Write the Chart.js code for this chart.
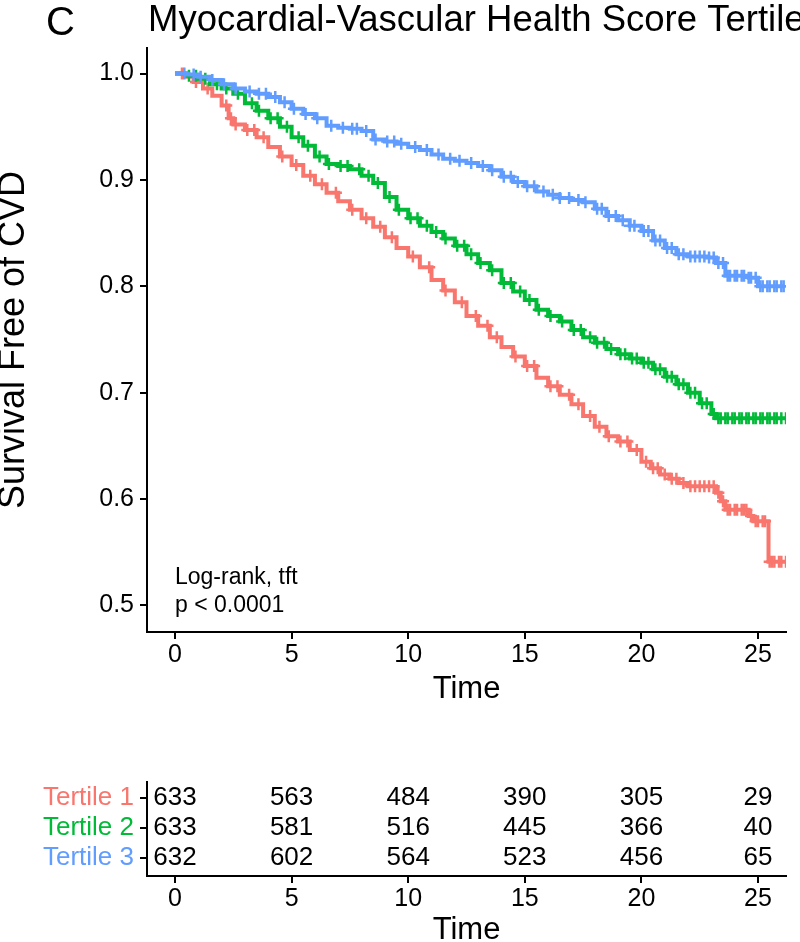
<!DOCTYPE html>
<html>
<head>
<meta charset="utf-8">
<script src="https://cdn.jsdelivr.net/npm/chart.js@4.4.1/dist/chart.umd.min.js"></script>
<style>
    body { margin: 0; background: #fff; }
    #survChart { position: absolute; left: 0; top: 0; }
    #riskChart { position: absolute; left: 0; top: 760px; }
</style>
</head>
<body>
<canvas id="survChart" width="800" height="720"></canvas>
<canvas id="riskChart" width="800" height="182"></canvas>
<script>
// Chart data
const groups = ['Tertile 1', 'Tertile 2', 'Tertile 3'];
const groupColors = ['#F8766D', '#00BA38', '#619CFF'];
const timeTicks = [0, 5, 10, 15, 20, 25];
const survTicks = [0.5, 0.6, 0.7, 0.8, 0.9, 1.0];

// Kaplan-Meier steps (time, survival)
const t1Time = [0, 0.4, 0.8, 1.2, 1.6, 2.0, 2.3, 2.5, 3.0, 3.5, 4.0, 4.5, 5.0, 5.5, 6.0, 6.5, 7.0, 7.5, 8.0, 8.5, 9.0, 9.5, 10.0,
    10.5, 11.0, 11.5, 12.0, 12.5, 13.0, 13.5, 14.0, 14.5, 15.0, 15.5, 16.0, 16.5, 17.0, 17.5, 18.0, 18.5, 19.0, 19.5, 20.0,
    20.4, 20.8, 21.2, 21.6, 22.0, 22.4, 22.8, 23.2, 23.4, 23.6, 23.9, 24.2, 24.6, 24.8, 25.1, 25.45, 25.8, 26.2];
const t1Surv = [1.000, 0.997, 0.992, 0.986, 0.979, 0.970, 0.958, 0.952, 0.947, 0.940, 0.931, 0.922, 0.914, 0.904, 0.896, 0.888,
    0.880, 0.872, 0.864, 0.856, 0.846, 0.836, 0.828, 0.818, 0.806, 0.796, 0.785, 0.772, 0.763, 0.752, 0.743, 0.734, 0.725,
    0.714, 0.706, 0.698, 0.689, 0.678, 0.668, 0.659, 0.654, 0.646, 0.635, 0.629, 0.623, 0.619, 0.615, 0.612, 0.612, 0.612,
    0.606, 0.598, 0.590, 0.590, 0.590, 0.584, 0.579, 0.579, 0.541, 0.541, 0.541];

const t2Time = [0, 0.5, 1.0, 1.5, 2.0, 2.5, 3.0, 3.5, 4.0, 4.5, 5.0, 5.5, 6.0, 6.5, 7.0, 7.5, 8.0, 8.5, 9.0, 9.5, 10.0, 10.5,
    11.0, 11.5, 12.0, 12.5, 13.0, 13.5, 14.0, 14.5, 15.0, 15.5, 16.0, 16.5, 17.0, 17.5, 18.0, 18.5, 19.0, 19.5, 20.0, 20.5,
    21.0, 21.5, 22.0, 22.5, 23.0, 23.2, 26.2];
const t2Surv = [1.000, 0.998, 0.995, 0.990, 0.986, 0.981, 0.972, 0.965, 0.958, 0.950, 0.940, 0.932, 0.922, 0.915, 0.913, 0.910,
    0.904, 0.897, 0.884, 0.872, 0.864, 0.857, 0.851, 0.845, 0.838, 0.830, 0.822, 0.815, 0.803, 0.795, 0.787, 0.778, 0.772,
    0.767, 0.759, 0.752, 0.747, 0.741, 0.736, 0.732, 0.728, 0.722, 0.715, 0.708, 0.700, 0.690, 0.680, 0.676, 0.676];

const t3Time = [0, 0.5, 1.0, 1.5, 2.0, 2.5, 3.0, 3.5, 4.0, 4.5, 5.0, 5.5, 6.0, 6.5, 7.0, 7.5, 8.0, 8.5, 9.0, 9.5, 10.0, 10.5,
    11.0, 11.5, 12.0, 12.5, 13.0, 13.5, 14.0, 14.5, 15.0, 15.5, 16.0, 16.5, 17.0, 17.5, 18.0, 18.5, 19.0, 19.5, 20.0, 20.5,
    21.0, 21.5, 22.0, 22.8, 23.2, 23.6, 24.6, 25.0, 26.1];
const t3Surv = [1.000, 0.999, 0.997, 0.994, 0.990, 0.986, 0.983, 0.981, 0.978, 0.973, 0.967, 0.962, 0.958, 0.951, 0.949, 0.948,
    0.946, 0.938, 0.936, 0.934, 0.931, 0.928, 0.924, 0.920, 0.918, 0.916, 0.913, 0.909, 0.903, 0.898, 0.894, 0.889, 0.886,
    0.883, 0.881, 0.879, 0.873, 0.866, 0.862, 0.857, 0.852, 0.843, 0.836, 0.830, 0.828, 0.827, 0.822, 0.810, 0.808, 0.800,
    0.800];

// Censoring times (marked with +)
const c1Time = [0.3, 0.9, 1.4, 2.2, 2.4, 2.6, 3.1, 3.4, 3.8, 4.6, 5.2, 5.8, 6.3, 6.9, 7.6, 8.2, 8.8, 9.3, 10.2, 10.9, 11.6,
    12.3, 12.9, 13.4, 13.8, 14.6, 15.1, 15.4, 16.1, 16.4, 16.9, 17.3, 17.8, 18.2, 18.6, 19.1, 19.4, 19.8, 20.2, 20.5, 20.7,
    21.0, 21.3, 21.5, 21.8, 22.1, 22.3, 22.5, 22.7, 22.9, 23.1, 23.3, 23.5, 23.7, 23.8, 24.0, 24.1, 24.3, 24.4, 24.5, 24.7,
    24.9, 25.0, 25.2, 25.3, 25.5, 25.6, 25.7, 25.9, 26.0, 26.2];
const c2Time = [0.6, 0.9, 1.3, 1.8, 2.2, 2.7, 3.3, 3.6, 4.1, 4.4, 4.8, 5.3, 5.7, 6.2, 6.6, 7.1, 7.4, 7.9, 8.3, 8.7, 9.2, 9.6,
    10.1, 10.4, 10.8, 11.2, 11.6, 12.1, 12.4, 12.7, 13.1, 13.6, 14.1, 14.4, 14.8, 15.2, 15.6, 16.1, 16.6, 17.1, 17.4, 17.8,
    18.1, 18.4, 18.7, 19.1, 19.3, 19.6, 19.8, 20.1, 20.3, 20.6, 20.8, 21.1, 21.3, 21.6, 21.8, 22.1, 22.3, 22.6, 22.8, 23.1,
    23.3, 23.4, 23.6, 23.7, 23.9, 24.0, 24.2, 24.3, 24.5, 24.6, 24.8, 24.9, 25.1, 25.2, 25.4, 25.5, 25.7, 25.8, 26.0, 26.2];
const c3Time = [0.4, 0.8, 1.1, 1.6, 2.1, 2.6, 3.2, 3.6, 3.9, 4.3, 4.7, 5.1, 5.6, 6.1, 6.7, 7.2, 7.6, 7.8, 8.2, 8.6, 9.1, 9.4,
    9.7, 10.3, 10.8, 11.3, 11.8, 12.2, 12.7, 13.2, 13.6, 14.1, 14.4, 14.7, 15.1, 15.4, 15.8, 16.2, 16.5, 16.9, 17.3, 17.6,
    18.1, 18.3, 18.6, 18.9, 19.2, 19.5, 19.7, 20.1, 20.3, 20.6, 20.8, 21.1, 21.3, 21.6, 21.8, 22.1, 22.3, 22.5, 22.7, 22.9,
    23.1, 23.3, 23.5, 23.7, 23.8, 24.0, 24.1, 24.3, 24.4, 24.6, 24.7, 24.9, 25.1, 25.2, 25.4, 25.5, 25.7, 25.8, 26.0, 26.1];

// Number at risk table
const riskTimes = [0, 5, 10, 15, 20, 25];
const risk1 = [633, 563, 484, 390, 305, 29];
const risk2 = [633, 581, 516, 445, 366, 40];
const risk3 = [632, 602, 564, 523, 456, 65];

const FONT = '"Liberation Sans", Arial, Helvetica, sans-serif';
Chart.defaults.font.family = FONT;
Chart.defaults.color = '#000';

const toPoints = (times, surv) => times.map((t, i) => ({ x: t, y: surv[i] }));

// survival value of the step curve at time t (for placing censor marks on it)
const survAt = (times, surv, t) => {
    let s = surv[0];
    times.forEach((tt, i) => { if (tt <= t) s = surv[i]; });
    return s;
};

const xScale = (height) => ({
    type: 'linear',
    min: -1.2,
    max: 26.2,
    afterBuildTicks: scale => { scale.ticks = timeTicks.map(v => ({ value: v })); },
    afterFit: scale => { scale.height = height; },
    grid: { drawOnChartArea: false, drawTicks: true, tickLength: 7, color: '#000', lineWidth: 2 },
    border: { display: true, color: '#000', width: 2 },
    ticks: { font: { size: 25 }, color: '#000', padding: 1, maxRotation: 0 }
});

const curve = (i, times, surv, order) => ({
    label: groups[i],
    data: toPoints(times, surv),
    borderColor: groupColors[i],
    backgroundColor: groupColors[i],
    borderWidth: 4,
    stepped: true,
    pointRadius: 0,
    order: order
});

const censor = (i, cTimes, times, surv, order) => ({
    label: groups[i] + ' censored',
    data: cTimes.map(t => ({ x: t, y: survAt(times, surv, t) })),
    showLine: false,
    pointStyle: 'cross',
    pointRadius: 6,
    pointBorderWidth: 2.5,
    pointBorderColor: groupColors[i],
    order: order
});

// Titles and annotation text
const survText = {
    id: 'survText',
    afterDraw(chart) {
        const ctx = chart.ctx;
        const { left, right, top, bottom } = chart.chartArea;
        const x0 = chart.scales.x.getPixelForValue(0);
        ctx.save();
        ctx.fillStyle = '#000';
        ctx.textBaseline = 'alphabetic';
        ctx.textAlign = 'left';
        ctx.font = '40px ' + FONT;
        ctx.fillText('C', 46, 35);
        ctx.font = '36.5px ' + FONT;
        ctx.fillText('Myocardial-Vascular Health Score Tertile', 148, 31);
        ctx.font = '23px ' + FONT;
        ctx.fillText('Log-rank, tft', x0, 584);
        ctx.fillText('p < 0.0001', x0, 612);
        ctx.textAlign = 'center';
        ctx.font = '31px ' + FONT;
        ctx.fillText('Time', (left + right) / 2, 698);
        ctx.translate(24, (top + bottom) / 2);
        ctx.rotate(-Math.PI / 2);
        ctx.font = '36px ' + FONT;
        ctx.fillText('Survival Free of CVD', 0, 0);
        ctx.restore();
    }
};

new Chart(document.getElementById('survChart'), {
    type: 'line',
    data: {
        datasets: [
            curve(0, t1Time, t1Surv, 5),
            censor(0, c1Time, t1Time, t1Surv, 4),
            curve(1, t2Time, t2Surv, 3),
            censor(1, c2Time, t2Time, t2Surv, 2),
            curve(2, t3Time, t3Surv, 1),
            censor(2, c3Time, t3Time, t3Surv, 0)
        ]
    },
    options: {
        responsive: false,
        animation: false,
        layout: { padding: { left: 0, right: 14, top: 48, bottom: 0 } },
        scales: {
            x: xScale(88),
            y: {
                type: 'linear',
                min: 0.475,
                max: 1.024,
                afterBuildTicks: scale => { scale.ticks = survTicks.map(v => ({ value: v })); },
                afterFit: scale => { scale.width = 147; },
                grid: { drawOnChartArea: false, drawTicks: true, tickLength: 7, color: '#000', lineWidth: 2 },
                border: { display: true, color: '#000', width: 2 },
                ticks: { font: { size: 25 }, color: '#000', padding: 6, callback: v => v.toFixed(1) }
            }
        },
        plugins: { legend: { display: false }, tooltip: { enabled: false } }
    },
    plugins: [survText]
});

// Risk table
const riskRows = [risk1, risk2, risk3];
const riskText = {
    id: 'riskText',
    afterDraw(chart) {
        const ctx = chart.ctx;
        const { left, right } = chart.chartArea;
        const xs = chart.scales.x;
        const ys = chart.scales.y;
        ctx.save();
        ctx.fillStyle = '#000';
        ctx.textAlign = 'center';
        ctx.textBaseline = 'middle';
        ctx.font = '26px ' + FONT;
        riskRows.forEach((row, i) => {
            row.forEach((n, j) => {
                ctx.fillText(String(n), xs.getPixelForValue(riskTimes[j]), ys.getPixelForValue(i + 1));
            });
        });
        ctx.textBaseline = 'alphabetic';
        ctx.font = '31px ' + FONT;
        ctx.fillText('Time', (left + right) / 2, 179);
        ctx.restore();
    }
};

new Chart(document.getElementById('riskChart'), {
    type: 'line',
    data: { datasets: [] },
    options: {
        responsive: false,
        animation: false,
        layout: { padding: { left: 0, right: 14, top: 21, bottom: 0 } },
        scales: {
            x: xScale(66),
            y: {
                type: 'linear',
                reverse: true,
                min: 0.45,
                max: 3.6,
                afterBuildTicks: scale => { scale.ticks = [1, 2, 3].map(v => ({ value: v })); },
                afterFit: scale => { scale.width = 147; },
                grid: { drawOnChartArea: false, drawTicks: true, tickLength: 7, color: '#000', lineWidth: 2 },
                border: { display: true, color: '#000', width: 2 },
                ticks: {
                    font: { size: 26 },
                    padding: 6,
                    color: c => groupColors[c.index],
                    callback: v => groups[v - 1]
                }
            }
        },
        plugins: { legend: { display: false }, tooltip: { enabled: false } }
    },
    plugins: [riskText]
});
</script>
</body>
</html>
